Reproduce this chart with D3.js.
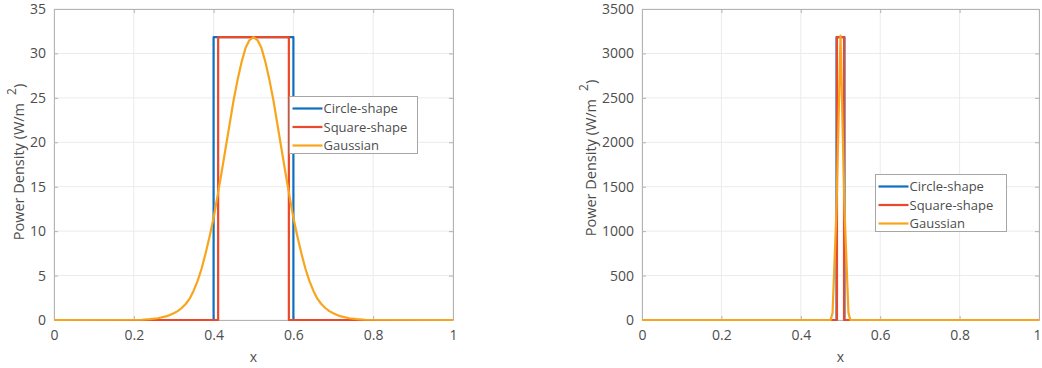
<!DOCTYPE html>
<html><head><meta charset="utf-8">
<script src="https://cdn.jsdelivr.net/npm/d3@7"></script>
<style>
body{margin:0;background:#fff;}
text{font-family:"Open Sans","Noto Sans",sans-serif;fill:#4d4d4d;}
</style></head><body>
<svg id="c" width="1042" height="368"></svg>
<script>
// ---- data ----
const seriesNames = ["Circle-shape", "Square-shape", "Gaussian"];
const seriesColors = ["#0f6fc0", "#ea4a2b", "#f8a51d"];

// left panel
const circleXL = [0, 0.4, 0.4, 0.6, 0.6, 1];
const circleYL = [0, 0, 31.83, 31.83, 0, 0];
const squareXL = [0, 0.4114, 0.4114, 0.5886, 0.5886, 1];
const squareYL = [0, 0, 31.83, 31.83, 0, 0];
const gaussXL = [0, 0.22, 0.24, 0.26, 0.28, 0.29, 0.30, 0.31, 0.32, 0.33, 0.34, 0.35, 0.36, 0.37, 0.38, 0.39,
                 0.40, 0.41, 0.42, 0.43, 0.44, 0.45, 0.46, 0.47, 0.48, 0.49, 0.50,
                 0.51, 0.52, 0.53, 0.54, 0.55, 0.56, 0.57, 0.58, 0.59, 0.60, 0.61, 0.62, 0.63, 0.64,
                 0.65, 0.66, 0.67, 0.68, 0.69, 0.70, 0.71, 0.72, 0.74, 0.76, 0.78, 1];
const gaussYL = [0, 0.03, 0.1, 0.2, 0.4, 0.55, 0.75, 1.0, 1.35, 1.8, 2.4, 3.3, 4.4, 5.8, 7.5, 9.4,
                 11.5, 14.0, 16.6, 19.3, 22.0, 24.7, 27.0, 29.0, 30.6, 31.5, 31.83,
                 31.5, 30.6, 29.0, 27.0, 24.7, 22.0, 19.3, 16.6, 14.0, 11.5, 9.4, 7.5, 5.8, 4.4,
                 3.3, 2.4, 1.8, 1.35, 1.0, 0.75, 0.55, 0.4, 0.2, 0.1, 0.03, 0];

// right panel
const circleXR = [0, 0.49, 0.49, 0.51, 0.51, 1];
const circleYR = [0, 0, 3183, 3183, 0, 0];
const squareXR = [0, 0.4911, 0.4911, 0.5089, 0.5089, 1];
const squareYR = [0, 0, 3183, 3183, 0, 0];
const gaussXR = [0, 0.475, 0.48, 0.49, 0.50, 0.51, 0.52, 0.525, 1];
const gaussYR = [0, 0, 80, 1250, 3200, 1250, 80, 0, 0];

const xTicks = [0, 0.2, 0.4, 0.6, 0.8, 1];
const xTickLabels = ["0", "0.2", "0.4", "0.6", "0.8", "1"];
const yTicksL = [0, 5, 10, 15, 20, 25, 30, 35];
const yTicksR = [0, 500, 1000, 1500, 2000, 2500, 3000, 3500];

const svg = d3.select("#c");

function panel(opt) {
  const x = d3.scaleLinear().domain([0, 1]).range([opt.x0, opt.x1]);
  const y = d3.scaleLinear().domain([0, opt.ymax]).range([opt.y1, opt.y0]);
  const g = svg.append("g");

  // grid
  g.selectAll(".gx").data(xTicks).enter().append("line")
    .attr("x1", d => x(d)).attr("x2", d => x(d)).attr("y1", opt.y0).attr("y2", opt.y1)
    .attr("stroke", "#ebebeb").attr("stroke-width", 1);
  g.selectAll(".gy").data(opt.yTicks).enter().append("line")
    .attr("x1", opt.x0).attr("x2", opt.x1).attr("y1", d => y(d)).attr("y2", d => y(d))
    .attr("stroke", "#ebebeb").attr("stroke-width", 1);

  // axes (ticks inward)
  const ax = d3.axisBottom(x).tickValues(xTicks).tickFormat((d, i) => xTickLabels[i]).tickSizeInner(-4).tickSizeOuter(0).tickPadding(10);
  const axT = d3.axisTop(x).tickValues(xTicks).tickFormat("").tickSizeInner(-4).tickSizeOuter(0);
  const ay = d3.axisLeft(y).tickValues(opt.yTicks).tickFormat(d3.format("d")).tickSizeInner(-4).tickSizeOuter(0).tickPadding(8);
  const ayR = d3.axisRight(y).tickValues(opt.yTicks).tickFormat("").tickSizeInner(-4).tickSizeOuter(0);
  const styleAxis = sel => {
    sel.selectAll("path,line").attr("stroke", "#b3b3b3");
    sel.selectAll("text").attr("font-size", 14).attr("fill", "#4d4d4d")
      .attr("font-family", '"Open Sans","Noto Sans",sans-serif');
  };
  const bx = g.append("g").attr("transform", `translate(0,${opt.y1})`).call(ax).call(styleAxis);
  if (opt.lastLabelShift) {
    bx.selectAll(".tick text").filter(d => d === 1).attr("dx", opt.lastLabelShift);
  }
  g.append("g").attr("transform", `translate(0,${opt.y0})`).call(axT).call(styleAxis);
  g.append("g").attr("transform", `translate(${opt.x0},0)`).call(ay).call(styleAxis);
  g.append("g").attr("transform", `translate(${opt.x1},0)`).call(ayR).call(styleAxis);

  // lines
  const line = d3.line().x(d => x(d[0])).y(d => y(d[1]));
  opt.series.forEach((s, i) => {
    g.append("path").datum(d3.zip(s[0], s[1]))
      .attr("d", line).attr("fill", "none")
      .attr("stroke", seriesColors[i]).attr("stroke-width", 2.2)
      .attr("stroke-linejoin", "round");
  });

  // axis labels
  g.append("text").attr("x", (opt.x0 + opt.x1) / 2).attr("y", 362)
    .attr("text-anchor", "middle").attr("font-size", 14).text("x");
  const yl = g.append("text")
    .attr("transform", `translate(${opt.ylx},${opt.yly}) rotate(-90)`)
    .attr("text-anchor", "middle").attr("font-size", 14.5);
  yl.append("tspan").text("Power Density (W/m");
  yl.append("tspan").attr("dx", 8).attr("dy", -8).attr("font-size", 12).text("2");
  yl.append("tspan").attr("dy", 8).text(")");

  // legend
  const L = opt.legend;
  g.append("rect").attr("x", L.x).attr("y", L.y).attr("width", L.w).attr("height", L.h)
    .attr("fill", "#fff").attr("stroke", "#a6a6a6").attr("stroke-width", 1);
  seriesNames.forEach((n, i) => {
    const yy = L.y + 12 + i * 18.5;
    g.append("line").attr("x1", L.x + 3).attr("x2", L.x + 33).attr("y1", yy).attr("y2", yy)
      .attr("stroke", seriesColors[i]).attr("stroke-width", 2.2);
    g.append("text").attr("x", L.x + 34).attr("y", yy + 4.5).attr("font-size", 13).text(n);
  });
}

panel({
  x0: 54, x1: 453, y0: 9, y1: 320, ymax: 35, yTicks: yTicksL,
  series: [[circleXL, circleYL], [squareXL, squareYL], [gaussXL, gaussYL]],
  ylx: 24, yly: 162,
  legend: {x: 289.5, y: 96.5, w: 128, h: 57}
});
panel({
  x0: 642, x1: 1039, y0: 9, y1: 320, ymax: 3500, yTicks: yTicksR,
  series: [[circleXR, circleYR], [squareXR, squareYR], [gaussXR, gaussYR]],
  ylx: 596, yly: 158, lastLabelShift: -2,
  legend: {x: 875.5, y: 174.5, w: 131, h: 57}
});
</script>
</body></html>
